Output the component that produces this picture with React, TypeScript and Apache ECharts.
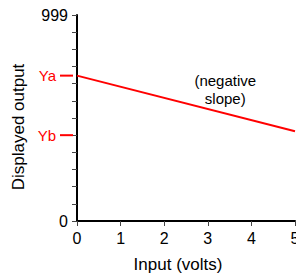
import React, { useEffect, useRef } from "react";
import * as echarts from "echarts";

const xValues = [0, 5];
const outputValues = [705, 435];
const markerNames = ["Ya", "Yb"];
const markerValues = [705, 416.25];
const yMin = 0;
const yMax = 999;
const yInterval = 83.25;
const xMin = 0;
const xMax = 5;
const annotationText = "(negative\nslope)";
const annotationAt = [3.4, 640];
const xTitle = "Input (volts)";
const yTitle = "Displayed output";

const FONT = "'Liberation Sans', Arial, Helvetica, sans-serif";

export default function App() {
  const ref = useRef<HTMLDivElement>(null);
  useEffect(() => {
    const chart = echarts.init(ref.current!, null, { renderer: "svg" });
    const option: any = {
      animation: false,
      backgroundColor: "#ffffff",
      grid: { left: 77, right: 1, top: 15, bottom: 53, containLabel: false, outerBoundsMode: "none" },
      xAxis: {
        type: "value",
        min: xMin,
        max: xMax,
        interval: 1,
        axisLine: { show: true, onZero: false, lineStyle: { color: "#000", width: 2 } },
        axisTick: { show: true, length: 5, lineStyle: { color: "#444", width: 1 } },
        axisLabel: { color: "#000", fontSize: 16, fontFamily: FONT, margin: 9, showMaxLabel: true, hideOverlap: false },
        splitLine: { show: false },
      },
      yAxis: {
        type: "value",
        min: yMin,
        max: yMax,
        interval: yInterval,
        axisLine: { show: true, onZero: false, lineStyle: { color: "#000", width: 2 } },
        axisTick: { show: true, length: 5, lineStyle: { color: "#444", width: 1 } },
        axisLabel: {
          color: "#000",
          fontSize: 16,
          fontFamily: FONT,
          margin: 9,
          formatter: (v: number) =>
            Math.abs(v - yMin) < 1e-6 ? String(yMin) : Math.abs(v - yMax) < 1e-6 ? String(yMax) : "",
        },
        splitLine: { show: false },
      },
      series: [
        {
          type: "line",
          data: xValues.map((x, i) => [x, outputValues[i]]),
          symbol: "none",
          lineStyle: { color: "#ff0000", width: 2 },
          z: 3,
        },
        {
          type: "custom",
          clip: false,
          data: markerValues.map((v) => [xMin, v]),
          renderItem: (params: any, api: any) => {
            const p = api.coord([api.value(0), api.value(1)]);
            return {
              type: "group",
              children: [
                {
                  type: "line",
                  shape: { x1: p[0] - 17, y1: p[1], x2: p[0] - 4, y2: p[1] },
                  style: { stroke: "#ff0000", lineWidth: 2 },
                  z2: 10,
                },
                {
                  type: "text",
                  x: p[0] - 21,
                  y: p[1],
                  style: {
                    text: markerNames[params.dataIndex],
                    fill: "#ff0000",
                    font: `15px ${FONT}`,
                    align: "right",
                    verticalAlign: "middle",
                  },
                },
              ],
            };
          },
          z: 4,
        },
      ],
    };
    chart.setOption(option);
    const ap = chart.convertToPixel({ gridIndex: 0 }, annotationAt) as number[];
    chart.setOption({
      graphic: [
        {
          type: "text",
          x: ap[0],
          y: ap[1],
          style: {
            text: annotationText,
            fill: "#000",
            font: `15px ${FONT}`,
            align: "center",
            verticalAlign: "middle",
            lineHeight: 18,
          },
        },
        {
          type: "text",
          x: 178,
          y: 264,
          style: {
            text: xTitle,
            fill: "#000",
            font: `17px ${FONT}`,
            align: "center",
            verticalAlign: "middle",
          },
        },
        {
          type: "text",
          x: 18,
          y: 127,
          rotation: Math.PI / 2,
          style: {
            text: yTitle,
            fill: "#000",
            font: `17px ${FONT}`,
            align: "center",
            verticalAlign: "middle",
          },
        },
      ],
    });
    return () => chart.dispose();
  }, []);
  return (
    <div
      ref={ref}
      style={{ position: "fixed", left: 0, top: 0, width: 296, height: 274, background: "#fff" }}
    />
  );
}
